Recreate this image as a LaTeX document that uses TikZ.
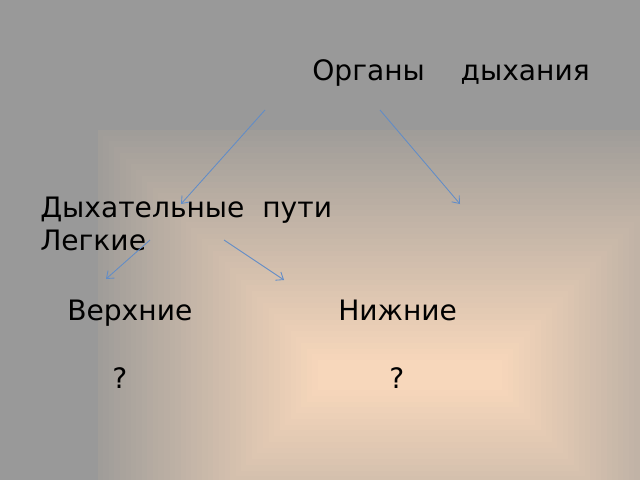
\documentclass[tikz,border=0pt]{standalone}
\usepackage{fontspec}
\setmainfont{DejaVu Sans}
\usetikzlibrary{arrows.meta}
\definecolor{bgGray}{RGB}{153,153,153}
\definecolor{bgEdge}{RGB}{160,157,153}
\definecolor{bgPeach}{RGB}{247,215,187}
\definecolor{arrBlue}{RGB}{96,140,200}
\tikzset{
    word/.style={anchor=base west,inner sep=0pt,font=\fontsize{20}{24}\selectfont},
    pointer/.style={arrBlue,line width=0.6pt,-{Straight Barb[length=4.5pt,width=7pt]}}
}
\begin{document}
\begin{tikzpicture}[x=0.025cm,y=-0.025cm]
\useasboundingbox (0,0) rectangle (640,480);
\fill[bgGray] (0,0) rectangle (640,480);

\begin{scope}
\clip (0,0) rectangle (640,480);
\foreach \i in {0,...,40}
{
    \pgfmathsetmacro{\t}{\i/40}
    \pgfmathsetmacro{\p}{100*\t}
    \fill[bgPeach!\p!bgEdge] ({98+220*\t},{130+230*\t}) rectangle ({722-220*\t},{620-230*\t});
};
\end{scope}

\node[word] (organy) at (312,80) {Органы\ \ \ \ дыхания};
\node[word] (puti) at (40,217) {Дыхательные\ \ пути};
\node[word] (legkie) at (40,250) {Легкие};
\node[word] (verh) at (67,320) {Верхние};
\node[word] (nizh) at (338,320) {Нижние};
\node[word] (qverh) at (112,388) {?};
\node[word] (qnizh) at (389,388) {?};

\coordinate (cAPt) at (265,110);
\coordinate (cBPt) at (181,204);
\coordinate (cCPt) at (380,110);
\coordinate (cDPt) at (460,204);
\coordinate (cEPt) at (150,240);
\coordinate (cFPt) at (106,279);
\coordinate (cGPt) at (224,240);
\coordinate (cHPt) at (284,280);

\foreach \v/\u in {cAPt/cBPt, cCPt/cDPt, cEPt/cFPt, cGPt/cHPt}
{
    \draw[pointer] (\v) -- (\u);
};
\end{tikzpicture}
\end{document}
